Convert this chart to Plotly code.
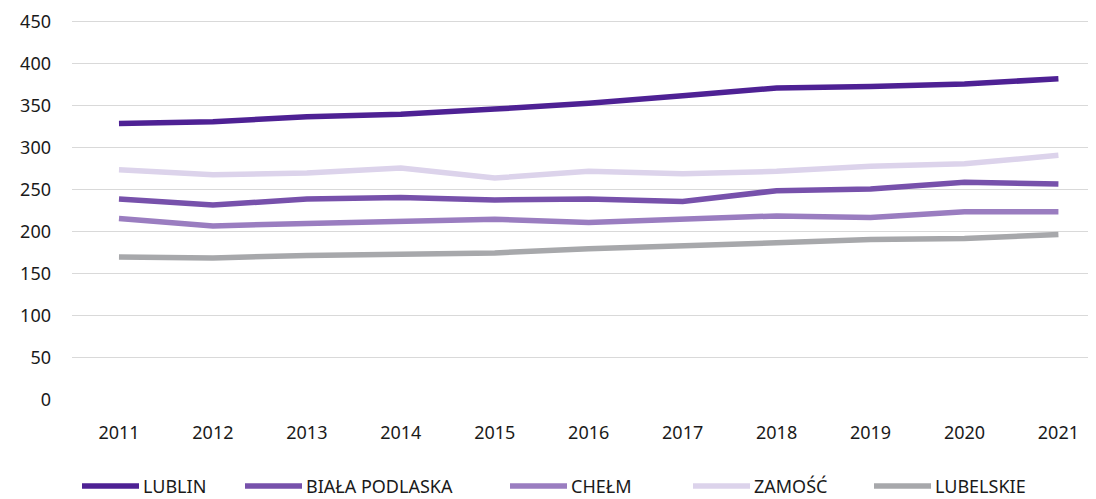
import plotly.graph_objects as go

years = ["2011", "2012", "2013", "2014", "2015", "2016", "2017", "2018", "2019", "2020", "2021"]

lublin = [329, 331, 337, 340, 346, 353, 362, 371, 373, 376, 382]
biala_podlaska = [239, 232, 239, 241, 238, 239, 236, 249, 251, 259, 257]
chelm = [216, 207, 210, 213, 215, 211, 215, 219, 217, 224, 224]
zamosc = [274, 268, 270, 276, 264, 272, 269, 272, 278, 281, 291]
lubelskie = [170, 169, 172, 174, 175, 180, 183, 187, 191, 192, 197]

series = [
    ("LUBLIN", lublin, "#4e2194"),
    ("BIAŁA PODLASKA", biala_podlaska, "#7751ab"),
    ("CHEŁM", chelm, "#9a7dc0"),
    ("ZAMOŚĆ", zamosc, "#dcd3eb"),
    ("LUBELSKIE", lubelskie, "#a7a8ab"),
]
# legend swatch left edges in page px, as laid out in the original
legend_x = [82, 245, 510, 693, 874]

# the page body has an 8px margin, so the figure is drawn 8px smaller
W, H = 1088, 491
L, T, B = 64, 12, 99
PW, PH = W - L, H - T - B
PAGE_L, PAGE_BOTTOM = 72, 400
LEGEND_Y = 486

fig = go.Figure()
for name, values, color in series:
    fig.add_scatter(x=years, y=values, name=name, mode="lines",
                    line={"color": color, "width": 5.5}, showlegend=False)

font = {"family": "Noto Sans, sans-serif", "size": 18, "color": "#1a1a1a"}

# hand-drawn legend: long line swatch + label
ly = -(LEGEND_Y - PAGE_BOTTOM) / PH
for (name, _, color), x0 in zip(series, legend_x):
    fig.add_shape(type="line", xref="paper", yref="paper",
                  x0=(x0 - PAGE_L) / PW, x1=(x0 + 57 - PAGE_L) / PW, y0=ly, y1=ly,
                  line={"color": color, "width": 5.5})
    fig.add_annotation(text=name, xref="paper", yref="paper", showarrow=False,
                       x=(x0 + 59 - PAGE_L) / PW, y=ly, xanchor="left", yanchor="middle",
                       font=font)

fig.update_layout(
    width=W, height=H, template="plotly_white", font=font,
    margin={"l": L, "r": 0, "t": T, "b": B},
    plot_bgcolor="white", paper_bgcolor="white", showlegend=False,
)
fig.update_xaxes(type="category", range=[-0.5, 10.4], showgrid=False, showline=False,
                 ticks="", ticklabelstandoff=20)
fig.update_yaxes(range=[0, 452], tickvals=list(range(0, 451, 50)), showgrid=True,
                 gridcolor="#d9d9d9", gridwidth=1, zeroline=False, ticks="",
                 ticklabelstandoff=20)

fig.write_html("out.html")
